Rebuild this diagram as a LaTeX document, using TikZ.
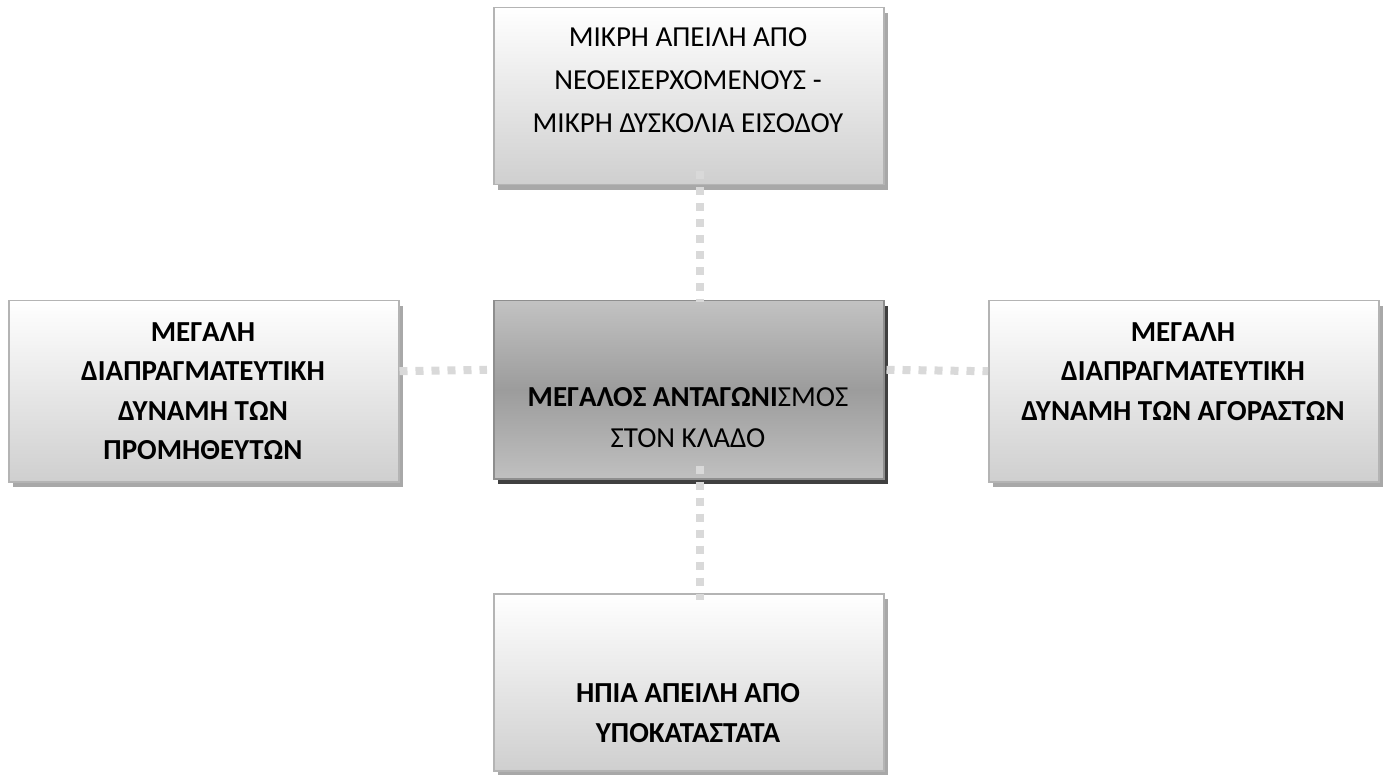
\documentclass[tikz,border=0pt]{standalone}
\usepackage{fontspec}
\setmainfont{Carlito}
\usetikzlibrary{shadows}
\definecolor{bordergray}{HTML}{B4B4B4}
\definecolor{darkborder}{HTML}{8E8E8E}
\definecolor{lightbot}{HTML}{CFCFCF}
\definecolor{midtop}{HTML}{C2C2C2}
\definecolor{midmid}{HTML}{9C9C9C}
\definecolor{midbot}{HTML}{C0C0C0}
\definecolor{shadowgray}{HTML}{A8A8A8}
\definecolor{darkshadow}{HTML}{404040}
\definecolor{connc}{HTML}{D9D9D9}
\begin{document}
\begin{tikzpicture}[x=1pt,y=-1pt,
  box/.style={draw=bordergray, line width=1.5pt, top color=white, bottom color=lightbot,
    general shadow={fill=shadowgray, shadow xshift=4pt, shadow yshift=-5pt},
    minimum width=390pt, minimum height=177pt, inner sep=0pt, anchor=north west},
  midbox/.style={draw=darkborder, line width=1.5pt, top color=midtop, bottom color=midbot, middle color=midmid,
    general shadow={fill=darkshadow, shadow xshift=4pt, shadow yshift=-5pt},
    minimum width=390pt, minimum height=178pt, inner sep=0pt, anchor=north west},
  txt/.style={align=center, inner sep=0pt, anchor=north, text=black},
  boldtxt/.style={txt, font=\fontsize{29}{39.5}\selectfont\bfseries},
  regtxt/.style={txt, font=\fontsize{29}{43}\selectfont},
  conn/.style={draw=connc, line width=8pt, dash pattern=on 8pt off 8pt}]
\useasboundingbox (0,0) rectangle (1387,775);
\node[box] (top) at (493,7) {};
\node[box, minimum height=181pt] (left) at (8,300) {};
\node[midbox] (ctr) at (493,300) {};
\node[box, minimum height=181pt] (right) at (988,300) {};
\node[box] (bot) at (493,593) {};
\node[regtxt] (ttop) at (688,27) {ΜΙΚΡΗ ΑΠΕΙΛΗ ΑΠΟ\\ΝΕΟΕΙΣΕΡΧΟΜΕΝΟΥΣ -\\ΜΙΚΡΗ ΔΥΣΚΟΛΙΑ ΕΙΣΟΔΟΥ};
\node[boldtxt] (tleft) at (203,322) {ΜΕΓΑΛΗ\\ΔΙΑΠΡΑΓΜΑΤΕΥΤΙΚΗ\\ΔΥΝΑΜΗ ΤΩΝ\\ΠΡΟΜΗΘΕΥΤΩΝ};
\node[txt, font=\fontsize{29}{41}\selectfont] (tctr) at (688,387) {\textbf{ΜΕΓΑΛΟΣ ΑΝΤΑΓΩΝΙ}ΣΜΟΣ\\ΣΤΟΝ ΚΛΑΔΟ};
\node[boldtxt] (tright) at (1183,322) {ΜΕΓΑΛΗ\\ΔΙΑΠΡΑΓΜΑΤΕΥΤΙΚΗ\\ΔΥΝΑΜΗ ΤΩΝ ΑΓΟΡΑΣΤΩΝ};
\node[boldtxt, font=\fontsize{29}{40}\selectfont\bfseries] (tbot) at (688,683) {ΗΠΙΑ ΑΠΕΙΛΗ ΑΠΟ\\ΥΠΟΚΑΤΑΣΤΑΤΑ};
\draw[conn] ([xshift=11pt,yshift=14pt]top.south) -- ([xshift=11pt,yshift=-2pt]ctr.north);
\draw[conn] ([xshift=11pt,yshift=14pt]ctr.south) -- ([xshift=11pt,yshift=-7pt]bot.north);
\draw[conn] ([yshift=20pt]left.east) -- ([xshift=-6pt,yshift=20pt]ctr.west);
\draw[conn] ([xshift=2pt,yshift=20pt]ctr.east) -- ([yshift=20pt]right.west);
\end{tikzpicture}
\end{document}
